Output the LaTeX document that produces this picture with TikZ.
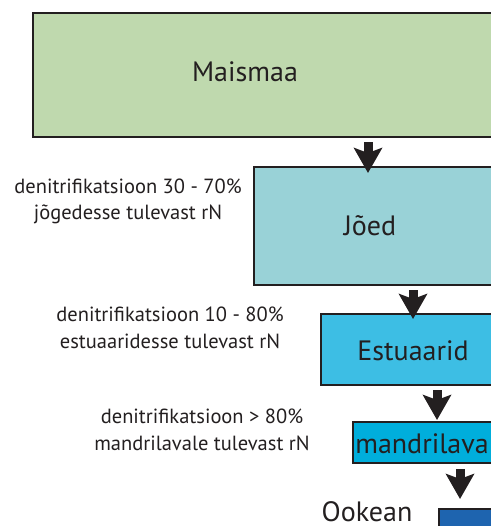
\documentclass[tikz,border=0pt]{standalone}
\usepackage{fontspec}
\setmainfont{PT Sans}
\usetikzlibrary{arrows.meta,positioning}
\definecolor{piir}{HTML}{231F20}
\definecolor{maaroheline}{HTML}{BFD9AE}
\definecolor{joesinine}{HTML}{99D2D7}
\definecolor{estsinine}{HTML}{3DBEE4}
\definecolor{mandrisinine}{HTML}{00AEDC}
\definecolor{ookeansinine}{HTML}{1E64AF}
\begin{document}
\begin{tikzpicture}[x=1pt, y=-1pt,
		kast/.style={draw=piir, line width=2.2pt, anchor=north west, inner sep=0pt},
		kastitekst/.style={font=\fontsize{28}{32}\selectfont, text=piir, anchor=base, inner sep=0pt},
		markus/.style={font=\fontsize{20.5}{26.5}\selectfont, text=piir, align=center, anchor=base, inner sep=0pt},
		vool/.style={line width=9pt, draw=piir, -{Stealth[length=25pt, width=28pt, inset=5pt]}}]
	\useasboundingbox (0,0) rectangle (490,526);
	% kastid, paremal pool pilt läbi lõigatud
	\node[kast, fill=maaroheline, minimum width=520pt, minimum height=124pt] (maismaa) at (32,12) {};
	\node[kast, fill=joesinine, minimum width=300pt, minimum height=118pt] (joed) at (253,166) {};
	\node[kast, fill=estsinine, minimum width=240pt, minimum height=71pt] (estuaarid) at (320,313) {};
	\node[kast, fill=mandrisinine, minimum width=200pt, minimum height=41pt] (mandrilava) at (352,421) {};
	\node[kast, fill=ookeansinine, minimum width=120pt, minimum height=60pt] (ookean) at (438,508) {};
	\node[kastitekst] (maismaatekst) at (245,82) {Maismaa};
	\node[kastitekst] (joedtekst) at (370,236) {Jõed};
	\node[kastitekst] (estuaaridtekst) at (413,360) {Estuaarid};
	\node[kastitekst] (mandrilavatekst) at (422,453) {mandrilava};
	\node[kastitekst] (ookeantekst) at (367,521) {Ookean};
	\node[markus] (joedmarkus) at (128,220) {denitrifikatsioon 30 - 70\%\\jõgedesse tulevast rN};
	\node[markus] (estuaaridmarkus) at (170,348) {denitrifikatsioon 10 - 80\%\\estuaaridesse tulevast rN};
	\node[markus] (mandrilavamarkus) at (202,450) {denitrifikatsioon > 80\%\\mandrilavale tulevast rN};
	% nooled
	\path (joed.north west) ++(115,0) coordinate (sisse1);
	\path (estuaarid.north west) ++(93,0) coordinate (sisse2);
	\path (mandrilava.north west) ++(85,0) coordinate (sisse3);
	\path (ookean.north west) ++(22,0) coordinate (sisse4);
	\draw[vool, shorten <=4pt, shorten >=-7pt] (maismaa.south -| sisse1) -- (joed.north -| sisse1);
	\draw[vool, shorten <=4pt, shorten >=-6pt] (joed.south -| sisse2) -- (estuaarid.north -| sisse2);
	\draw[vool, shorten <=4pt, shorten >=1pt] (estuaarid.south -| sisse3) -- (mandrilava.north -| sisse3);
	\draw[vool, shorten <=5pt, shorten >=9pt] (mandrilava.south -| sisse4) -- (ookean.north -| sisse4);
\end{tikzpicture}
\end{document}
